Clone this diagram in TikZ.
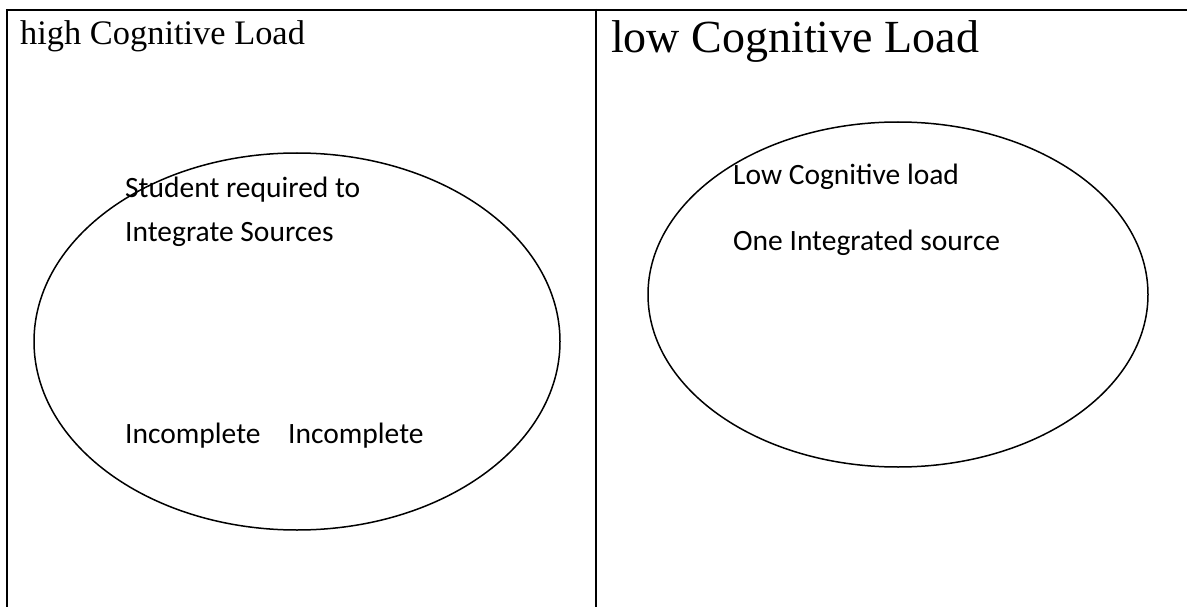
\documentclass[tikz,border=0pt]{standalone}
\usepackage{fontspec}
\setmainfont{Liberation Serif}
\newfontfamily\bodyfont{Carlito}
\usetikzlibrary{calc}
\tikzset{
	title/.style={inner sep=0pt, anchor=base west},
	bodytext/.style={inner sep=0pt, anchor=base west, font=\bodyfont\fontsize{29.5}{35}\selectfont},
}

\begin{document}
\begin{tikzpicture}[x=1pt, y=-1pt]
		%%%%% START %%%%%
		
		\useasboundingbox (0, 0) rectangle (1187, 607);
		
		% table rules
		\draw[line width=2.4pt] (5.8, 10) -- (1187, 10);
		\draw[line width=2.4pt] (7, 8.8) -- (7, 607);
		\draw[line width=2.4pt] (596, 8.8) -- (596, 607);
		
		% headings
		\node[title, font=\fontsize{34.4}{40}\selectfont] (highHead) at (20, 45) {high Cognitive Load};
		\node[title, font=\fontsize{46}{52}\selectfont] (lowHead) at (611, 53) {low Cognitive Load};
		
		% ellipses
		\draw[line width=1.5pt] (297, 341.5) ellipse (263 and 188.5);
		\draw[line width=1.5pt] (898, 294.5) ellipse (250 and 172.5);
		
		% left cell texts
		\node[bodytext] (student) at (125, 198) {Student required to};
		\node[bodytext] (integrate) at (125, 241) {Integrate Sources};
		\node[bodytext] (incompleteA) at (125, 443) {Incomplete};
		\node[bodytext] (incompleteB) at (288, 443) {Incomplete};
		
		% right cell texts
		\node[bodytext] (lowLoad) at (733, 185) {Low Cognitive load};
		\node[bodytext] (oneSource) at (733, 250) {One Integrated source};
		
		%%%%% END %%%%%
	\end{tikzpicture}
\end{document}
